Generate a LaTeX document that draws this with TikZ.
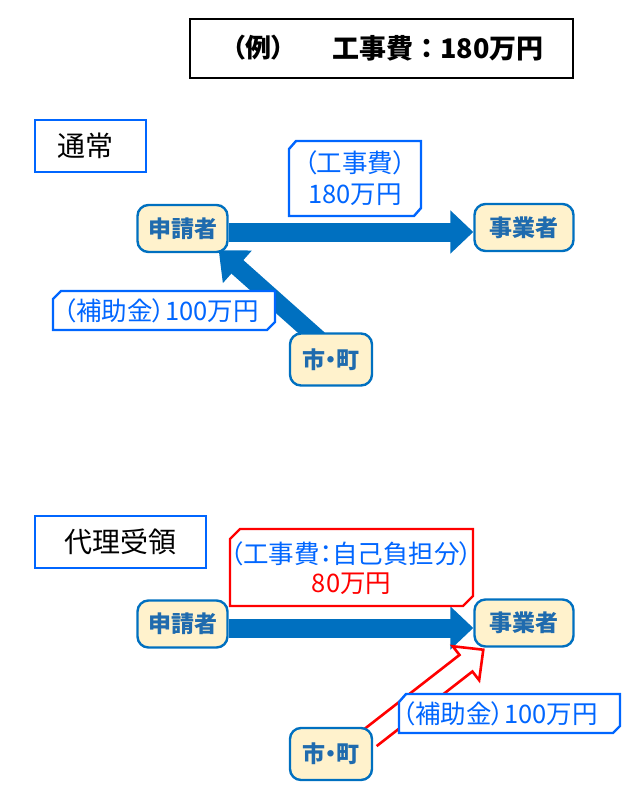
\documentclass[tikz,border=0pt]{standalone}
\usepackage{fontspec}
\setmainfont{Noto Sans CJK JP}
\newfontfamily\propfont[RawFeature=+palt]{Noto Sans CJK JP}
\usetikzlibrary{arrows.meta,calc,backgrounds}
\definecolor{nodeblue}{HTML}{0070C0}
\definecolor{nodetext}{HTML}{1F6BAE}
\definecolor{cream}{HTML}{FFF2CC}
\definecolor{labblue}{HTML}{0066FF}
\definecolor{redc}{HTML}{FF0000}
\tikzset{
  party/.style={draw=nodeblue, line width=2.4pt, fill=cream, rounded corners=11pt,
    minimum width=90pt, minimum height=47pt, inner sep=0pt,
    text=nodetext, font=\propfont\fontsize{23}{25}\selectfont\bfseries},
  casebox/.style={draw=labblue, line width=2pt, fill=white, inner sep=0pt,
    font=\fontsize{28}{30}\selectfont},
  labtext/.style={text=labblue, font=\propfont\fontsize{25.5}{31}\selectfont, align=center, inner sep=0pt},
  cutbox/.style={line width=2.4pt, fill=white, line join=miter},
  bigarrow/.style={draw=nodeblue, line width=19pt,
    -{Triangle[length=23pt,width=42pt]}},
  titletext/.style={font=\fontsize{27}{29}\selectfont\bfseries, inner sep=0pt},
}
\begin{document}
\begin{tikzpicture}[x=1pt,y=-1pt]
\useasboundingbox (0,0) rectangle (625,793);

% title
\node[draw=black, line width=2pt, minimum width=383pt, minimum height=59pt, inner sep=0pt] (title) at (381.5,48.5) {};
\node[titletext, font=\propfont\fontsize{26}{28}\selectfont\bfseries] (ex) at (258.5,48) {（例）};
\node[titletext, anchor=west] (cost) at (332,48) {工事費：180万円};

% ===== normal case =====
\node[casebox, minimum width=111pt, minimum height=52pt] (normal) at (90.5,146) {通常\hspace*{10pt}};
\node[party] (app1) at (182.5,228.5) {申請者};
\node[party, minimum width=99pt] (biz1) at (524,227.5) {事業者};
\node[party, minimum width=82pt, minimum height=52pt] (city1) at (331,359.5) {市・町};

\begin{scope}[on background layer]
\draw[bigarrow] (app1.east |- 0,232) -- (biz1.west |- 0,232);
\coordinate (c1tail) at ($(city1.north west)+(30,7)$);
\coordinate (c1tip) at ($(app1.south east)+(-10,-3)$);
\draw[draw=nodeblue, line width=18pt, -{Triangle[length=25pt,width=42pt]}] (c1tail) -- (c1tip);
\end{scope}

% label: construction cost
\draw[cutbox, draw=labblue] (296,141) -- (421,141) -- (421,208) -- (414,216) -- (289,216) -- (289,149) -- cycle;
\node[labtext] (lab1) at (355,178) {（工事費）\\180万円};

% label: subsidy (upper)
\draw[cutbox, draw=labblue] (61,291) -- (275,291) -- (275,322) -- (267,330) -- (53,330) -- (53,299) -- cycle;
\node[labtext] (lab2) at (161,310.5) {（補助金）100万円};

% ===== proxy receipt case =====
\node[casebox, minimum width=171pt, minimum height=52pt] (proxy) at (120.5,542) {代理受領};
\node[party] (app2) at (182.5,624) {申請者};
\node[party, minimum width=99pt] (biz2) at (524,623) {事業者};
\node[party, minimum width=82pt, minimum height=52pt] (city2) at (331,754) {市・町};

\begin{scope}[on background layer]
\draw[bigarrow] (app2.east |- 0,628) -- (biz2.west |- 0,628);
\coordinate (S) at ($(city2.north east)+(-3,11)$);
\coordinate (T) at ($(biz2.south west)+(10,2)$);
\coordinate (H) at ($(T)!22pt!(S)$);
\draw[draw=redc, line width=2.6pt, fill=white, line join=miter]
  ($(S)!10.5pt!90:(T)$) -- ($(H)!10.5pt!-90:(S)$) -- ($(H)!21.5pt!-90:(S)$) -- (T)
  -- ($(H)!21.5pt!90:(S)$) -- ($(H)!10.5pt!90:(S)$) -- ($(S)!10.5pt!-90:(T)$);
\end{scope}

% label: own share
\draw[cutbox, draw=redc] (240,529) -- (473,529) -- (473,596) -- (463,606) -- (230,606) -- (230,539) -- cycle;
\node[labtext] (lab3) at (351.5,554) {（工事費：自己負担分）};
\node[labtext, text=redc] (lab4) at (351.5,584) {80万円};

% label: subsidy (lower)
\draw[cutbox, draw=labblue] (406,694) -- (620,694) -- (620,726) -- (613,733) -- (399,733) -- (399,702) -- cycle;
\node[labtext] (lab5) at (500,714) {（補助金）100万円};
\end{tikzpicture}
\end{document}
